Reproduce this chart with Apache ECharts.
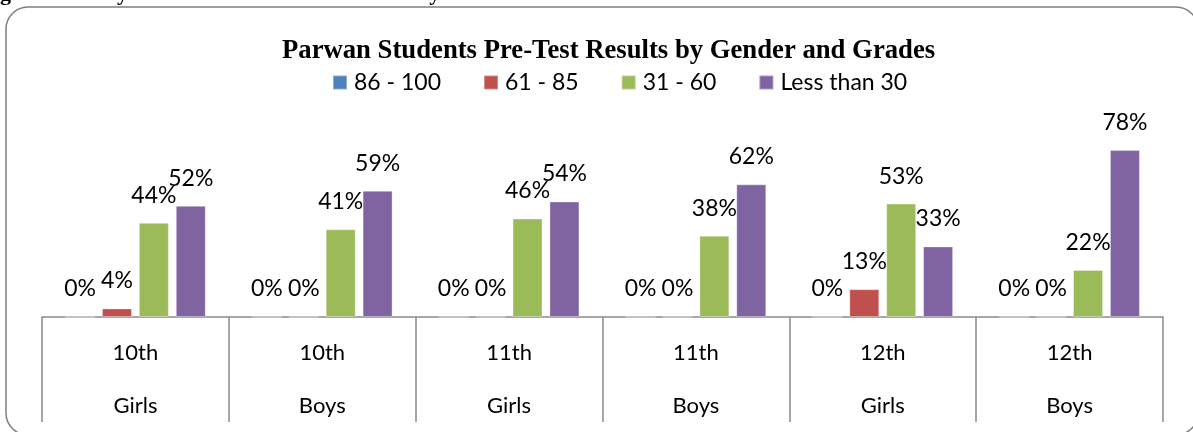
<!DOCTYPE html>
<html>
<head>
<meta charset="utf-8">
<script src="https://cdn.jsdelivr.net/npm/echarts@6/dist/echarts.min.js"></script>
<style>
  html, body { margin: 0; padding: 0; background: #fff; }
  #chart { width: 1193px; height: 432px; }
</style>
</head>
<body>
<div id="chart"></div>
<script>
const grades = ['10th', '10th', '11th', '11th', '12th', '12th'];
const genders = ['Girls', 'Boys', 'Girls', 'Boys', 'Girls', 'Boys'];
const seriesNames = ['86 - 100', '61 - 85', '31 - 60', 'Less than 30'];
const score86to100 = [0, 0, 0, 0, 0, 0];
const score61to85 = [4, 0, 0, 0, 13, 0];
const score31to60 = [44, 41, 46, 38, 53, 22];
const scoreBelow30 = [52, 59, 54, 62, 33, 78];

const colors = ['#4f81bd', '#c0504d', '#9bbb59', '#8064a2'];
const categories = grades.map((g, i) => g + '\n' + genders[i]);
const allData = [score86to100, score61to85, score31to60, scoreBelow30];

const chart = echarts.init(document.getElementById('chart'));

const series = allData.map((d, i) => ({
  name: seriesNames[i],
  type: 'bar',
  data: d,
  barWidth: 30,
  barGap: '23%',
  itemStyle: { color: colors[i], borderColor: 'rgba(255,255,255,0.35)', borderWidth: 1 },
  label: {
    show: true,
    position: 'top',
    distance: 16,
    formatter: '{c}%',
    fontFamily: 'Lato',
    fontSize: 23,
    color: '#000'
  }
}));

const option = {
  animation: false,
  color: colors,
  title: {
    text: 'Parwan Students Pre-Test Results by Gender and Grades',
    left: 277,
    top: 33,
    textStyle: {
      fontFamily: 'Liberation Serif',
      fontWeight: 'bold',
      fontSize: 26.7,
      color: '#000'
    }
  },
  legend: {
    top: 66,
    left: 327,
    itemWidth: 14,
    itemHeight: 14,
    itemGap: 42,
    icon: 'rect',
    textStyle: { fontFamily: 'Lato', fontSize: 23, color: '#000', padding: [0, 0, 0, 2] }
  },
  grid: { left: 42, right: 30, top: 103, bottom: 114 },
  xAxis: {
    type: 'category',
    data: categories,
    axisLine: { lineStyle: { color: '#8a8a8a', width: 1.5 } },
    axisTick: { show: true, length: 105, lineStyle: { color: '#8a8a8a', width: 1.5 } },
    axisLabel: {
      margin: 9,
      lineHeight: 53,
      fontFamily: 'Lato',
      fontSize: 22,
      color: '#000'
    }
  },
  yAxis: {
    type: 'value',
    min: 0,
    max: 100,
    show: false
  },
  graphic: [
    {
      type: 'rect',
      shape: { x: 6, y: 7, width: 1192, height: 428, r: 22 },
      style: { fill: 'none', stroke: '#7f7f7f', lineWidth: 1.5 },
      z: -1
    },
    {
      type: 'text',
      left: 0,
      top: -17,
      style: {
        text: 'gure 4: Analysis of Parwan Pre-Test Results by Gender and Grades',
        font: 'bold 22px "Liberation Serif"',
        fill: '#000'
      }
    }
  ],
  series: series
};

chart.setOption(option);
</script>
</body>
</html>
